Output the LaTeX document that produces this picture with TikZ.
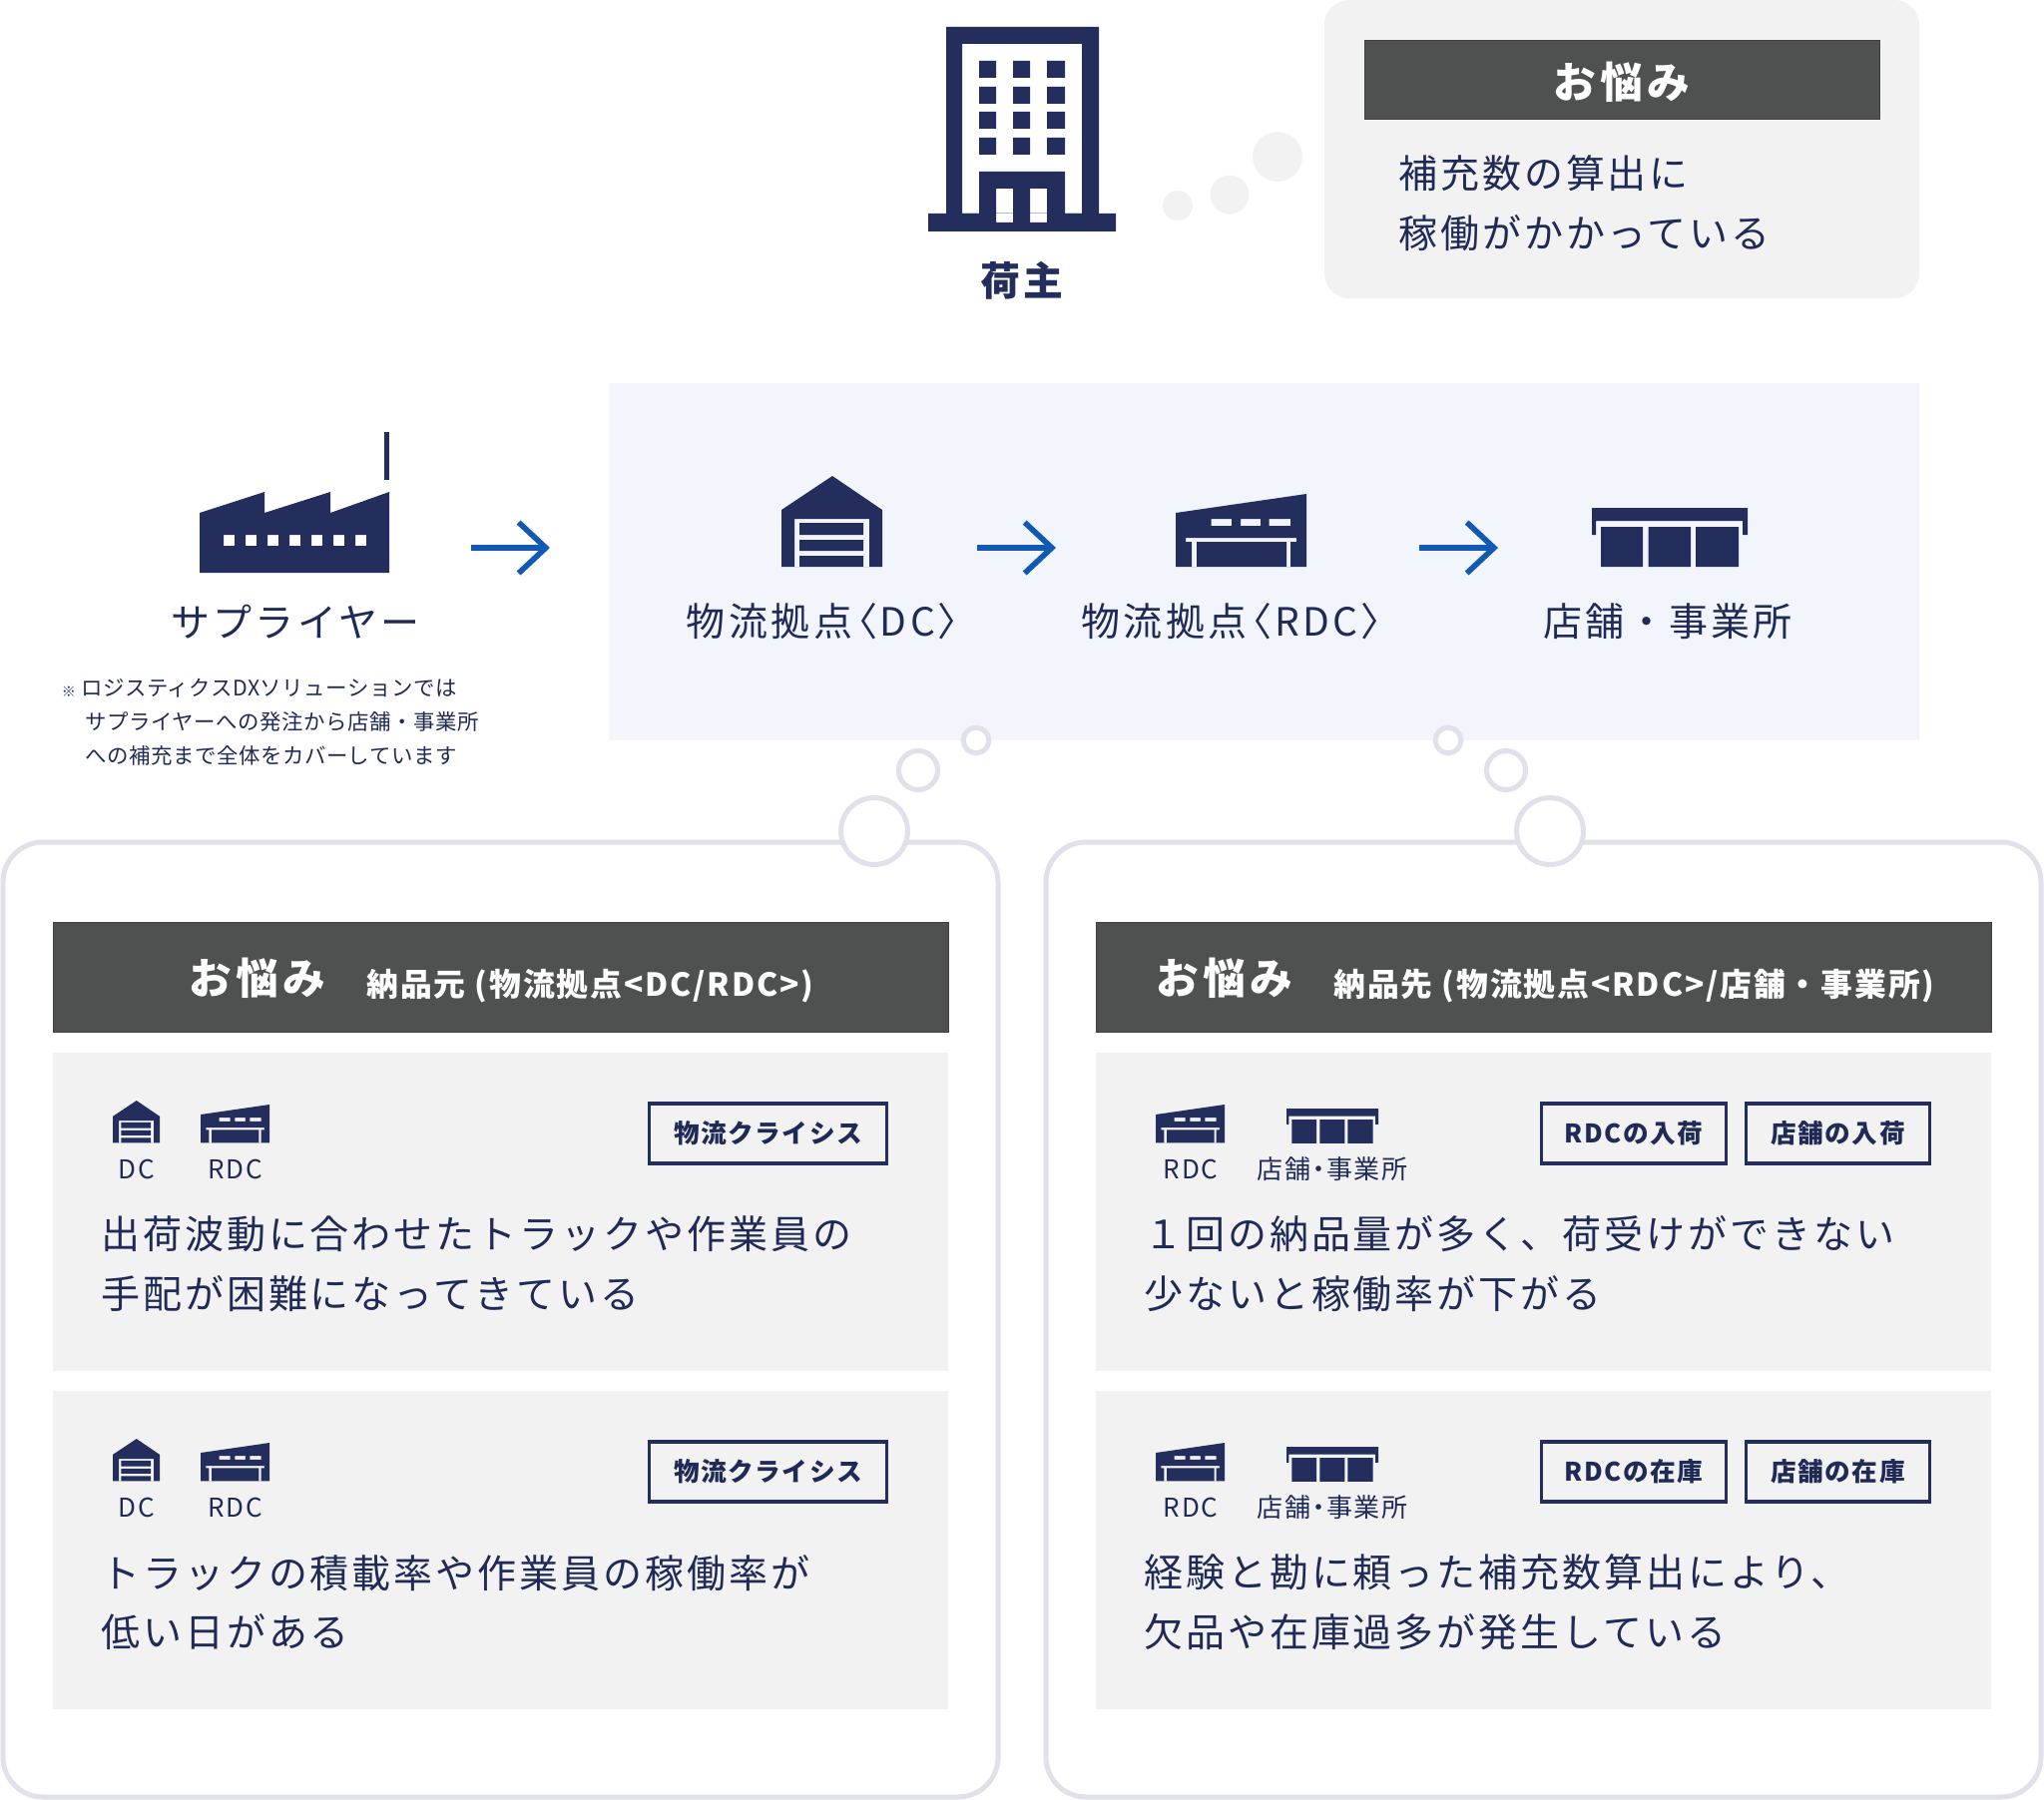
\documentclass[tikz,border=0pt]{standalone}
\usepackage{fontspec}
\usetikzlibrary{arrows.meta}
\setmainfont{Noto Sans CJK JP}
\newfontfamily\jpb[LetterSpace=7.5]{Noto Sans CJK JP}
\newfontfamily\jpl[LetterSpace=8]{Noto Sans CJK JP}
\newfontfamily\jpp[LetterSpace=9,RawFeature={+palt}]{Noto Sans CJK JP}
\newfontfamily\jpn[LetterSpace=2.5]{Noto Sans CJK JP}
\newfontfamily\jph[LetterSpace=9.5]{Noto Sans CJK JP}
\newfontfamily\jps[LetterSpace=6]{Noto Sans CJK JP}
\newfontfamily\jpsp[LetterSpace=6,RawFeature={+palt}]{Noto Sans CJK JP}
\definecolor{ink}{HTML}{232E5C}
\definecolor{txt}{HTML}{1F2A57}
\definecolor{hdr}{HTML}{4F5050}
\definecolor{card}{HTML}{F2F2F2}
\definecolor{frm}{HTML}{E0E1EA}
\definecolor{pale}{HTML}{F2F6FC}
\definecolor{arr}{HTML}{1159B2}
\newcommand\bodyf{\jpb\fontsize{22.2}{34}\selectfont}
\newcommand\lblmain{\jpl\fontsize{22.2}{34}\selectfont}
\newcommand\bodyp{\jpp\fontsize{22.2}{34}\selectfont}
\newcommand\hdrf{\jph\bfseries\fontsize{24.3}{30}\selectfont}
\newcommand\shipf{\jph\bfseries\fontsize{22.7}{30}\selectfont}
\newcommand\subf{\jps\bfseries\fontsize{18.1}{24}\selectfont}
\newcommand\tagf{\jps\bfseries\fontsize{14.6}{20}\selectfont}
\newcommand\lblf{\jps\fontsize{14.8}{20}\selectfont}
\newcommand\lblp{\jpsp\fontsize{14.8}{20}\selectfont}
\newcommand\notef{\jpn\fontsize{12.2}{19}\selectfont}
\tikzset{
  x=0.02cm,y=-0.02cm,
  bodytext/.style={font=\bodyf,text=txt,inner sep=0,anchor=west,align=left},
  label38/.style={font=\lblmain,text=txt,inner sep=0},
  labelp/.style={font=\bodyp,text=txt,inner sep=0},
  head40/.style={font=\hdrf,text=white,inner sep=0},
  headsub/.style={font=\subf,text=white,inner sep=0},
  small label/.style={font=\lblf,text=txt,inner sep=0},
  small labelp/.style={font=\lblp,text=txt,inner sep=0},
  notetext/.style={font=\notef,text=txt,inner sep=0,anchor=west},
  tagbox/.style={draw=ink,line width=1.9pt,inner sep=0,minimum height=1.2cm,font=\tagf,text=txt},
  hdrbar/.style={fill=hdr,draw=black!75,line width=0.5pt},
  frame/.style={draw=frm,line width=0.1cm,fill=white,rounded corners=0.8cm},
  ring/.style={draw=frm,line width=0.1cm,fill=white},
  flow/.style={draw=arr,line width=3.4pt,-{Straight Barb[length=15.5pt,width=29pt,line width=3.2pt]}},
  dcicon/.pic={
    \fill[ink,even odd rule] (0,34)--(51,0)--(101,34)--(101,91)--(0,91)--cycle
      (13,43) rectangle (88,91)
      (18,47) rectangle (82,59)
      (18,64) rectangle (82,75)
      (18,80) rectangle (82,91);
  },
  rdcicon/.pic={
    \fill[ink,even odd rule] (0,19)--(131,0)--(131,73)--(0,73)--cycle
      (35.5,25) rectangle (56,32)
      (65,25) rectangle (85,32)
      (93.5,25) rectangle (115,32)
      (10,44)--(121,44)--(121,48)--(115,48)--(115,73)--(111,73)--(111,48)--(21,48)--(21,73)--(16,73)--(16,48)--(10,48)--cycle;
  },
  storeicon/.pic={
    \fill[ink] (0,0)--(156,0)--(156,27)--(151,27)--(151,13)--(4,13)--(4,27)--(0,27)--cycle;
    \fill[ink] (9,19) rectangle (51,59)
      (56.5,19) rectangle (99,59)
      (104,19) rectangle (147,59);
  },
}
\begin{document}
\begin{tikzpicture}
\useasboundingbox (0,0) rectangle (2048,1804);
\fill[white] (0,0) rectangle (2048,1804);

% building
\fill[ink,even odd rule] (948,27) rectangle (1101,214)
  (964,44) rectangle (1084,214)
  (981,61) rectangle (998,78) (1015,61) rectangle (1032,78) (1049,61) rectangle (1067,78)
  (981,87) rectangle (998,104) (1015,87) rectangle (1032,104) (1049,87) rectangle (1067,104)
  (981,112) rectangle (998,129) (1015,112) rectangle (1032,129) (1049,112) rectangle (1067,129)
  (981,138) rectangle (998,155) (1015,138) rectangle (1032,155) (1049,138) rectangle (1067,155);
\fill[ink,even odd rule] (981,172) rectangle (1067,214)
  (998,189) rectangle (1015,214) (1032,189) rectangle (1049,214);
\fill[ink,even odd rule] (930,214) rectangle (1118,232)
  (998,214) rectangle (1015,223) (1032,214) rectangle (1049,223);
\node[font=\shipf,text=ink,inner sep=0] (shipper) at (1024,281) {荷主};

% thought bubbles, top
\fill[card] (1180,206) circle[radius=0.3cm];
\fill[card] (1232,195) circle[radius=0.39cm];
\fill[card] (1280,157) circle[radius=0.5cm];

% top worry box
\fill[card,rounded corners=0.5cm] (1327,0) rectangle (1923,299);
\path[hdrbar] (1367,40) rectangle (1883,119);
\node[head40] (topworry) at (1625,82) {お悩み};
\node[bodytext] (topbody) at (1401,204) {補充数の算出に\\稼働がかかっている};

% pale panel
\fill[pale] (610,384) rectangle (1923,742);

% factory
\fill[ink,even odd rule] (200,514)--(265,493)--(265,514)--(331,493)--(331,514)--(390,493)--(390,574)--(200,574)--cycle
  (224,536) rectangle (235,547) (246,536) rectangle (257,547) (268,536) rectangle (279,547)
  (290,536) rectangle (301,547) (312,536) rectangle (323,547) (334,536) rectangle (345,547)
  (356,536) rectangle (367,547);
\fill[ink] (385,433) rectangle (390,481);
\node[label38] (supplier) at (296,623) {サプライヤー};

% note
\node[font=\bfseries\fontsize{8}{10}\selectfont,text=txt,inner sep=0] (notemark) at (69,693) {※};
\node[notetext] (note1) at (81,690) {ロジスティクスDXソリューションでは};
\node[notetext] (note2) at (85,723) {サプライヤーへの発注から店舗・事業所};
\node[notetext] (note3) at (85,757) {への補充まで全体をカバーしています};

% flow icons
\pic at (783,477) {dcicon};
\pic at (1178,495) {rdcicon};
\pic at (1595,509) {storeicon};
\node[labelp] (dc) at (824,623) {物流拠点\hspace{2.5pt}〈DC〉};
\node[labelp] (rdc) at (1233.5,623) {物流拠点\hspace{2.5pt}〈RDC〉};
\node[label38] (store) at (1671,623) {店舗・事業所};

% arrows
\coordinate (a1s) at (472,549); \coordinate (a1e) at (551,549);
\coordinate (a2s) at (979,549); \coordinate (a2e) at (1058,549);
\coordinate (a3s) at (1422,549); \coordinate (a3e) at (1501,549);
\draw[flow] (a1s) -- (a1e);
\draw[flow] (a2s) -- (a2e);
\draw[flow] (a3s) -- (a3e);

% frames
\path[frame] (3,844) rectangle (1000,1801);
\path[frame] (1048,844) rectangle (2045,1801);
\path[ring] (978,742) circle[radius=0.256cm];
\path[ring] (920,772) circle[radius=0.39cm];
\path[ring] (876,833) circle[radius=0.67cm];
\path[ring] (1451,742) circle[radius=0.256cm];
\path[ring] (1509,772) circle[radius=0.39cm];
\path[ring] (1553,833) circle[radius=0.67cm];

% headers
\path[hdrbar] (53,924) rectangle (950,1034);
\path[hdrbar] (1098,924) rectangle (1995,1034);
\node[head40] (lh) at (258,980) {お悩み};
\node[headsub,anchor=west] (lsub) at (367,988) {納品元 (物流拠点<DC/RDC>)};
\node[head40] (rh) at (1227,980) {お悩み};
\node[headsub,anchor=west] (rsub) at (1336,988) {納品先 (物流拠点<RDC>/店舗・事業所)};

% cards
\fill[card] (53,1055) rectangle (950,1374);
\fill[card] (53,1394) rectangle (950,1713);
\fill[card] (1098,1055) rectangle (1995,1374);
\fill[card] (1098,1394) rectangle (1995,1713);

% card L1
\pic[scale=0.466] at (113,1103) {dcicon};
\pic[scale=0.527] at (201,1107) {rdcicon};
\node[small label] (l1dc) at (137,1172) {DC};
\node[small label] (l1rdc) at (236,1172) {RDC};
\node[tagbox,minimum width=4.76cm] (l1tag) at (769.5,1136) {物流クライシス};
\node[bodytext] (l1body) at (101,1267) {出荷波動に合わせたトラックや作業員の\\手配が困難になってきている};

% card L2
\pic[scale=0.466] at (113,1442) {dcicon};
\pic[scale=0.527] at (201,1446) {rdcicon};
\node[small label] (l2dc) at (137,1511) {DC};
\node[small label] (l2rdc) at (236,1511) {RDC};
\node[tagbox,minimum width=4.76cm] (l2tag) at (769.5,1475) {物流クライシス};
\node[bodytext] (l2body) at (101,1606) {トラックの積載率や作業員の稼働率が\\低い日がある};

% card R1
\pic[scale=0.527] at (1158,1107) {rdcicon};
\pic[scale=0.59] at (1289,1111) {storeicon};
\node[small label] (r1rdc) at (1193,1172) {RDC};
\node[small labelp] (r1st) at (1335,1172) {店舗・事業所};
\node[tagbox,minimum width=3.7cm] (r1taga) at (1637,1136) {RDCの入荷};
\node[tagbox,minimum width=3.68cm] (r1tagb) at (1841.5,1136) {店舗の入荷};
\node[bodytext] (r1body) at (1146,1267) {１回の納品量が多く、荷受けができない\\少ないと稼働率が下がる};

% card R2
\pic[scale=0.527] at (1158,1446) {rdcicon};
\pic[scale=0.59] at (1289,1450) {storeicon};
\node[small label] (r2rdc) at (1193,1511) {RDC};
\node[small labelp] (r2st) at (1335,1511) {店舗・事業所};
\node[tagbox,minimum width=3.7cm] (r2taga) at (1637,1475) {RDCの在庫};
\node[tagbox,minimum width=3.68cm] (r2tagb) at (1841.5,1475) {店舗の在庫};
\node[bodytext] (r2body) at (1146,1606) {経験と勘に頼った補充数算出により、\\欠品や在庫過多が発生している};
\end{tikzpicture}
\end{document}
